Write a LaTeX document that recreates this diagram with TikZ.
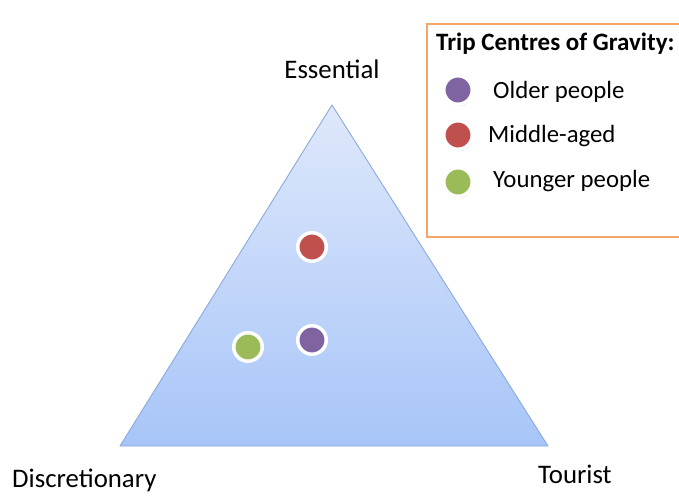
\documentclass[tikz,border=0pt]{standalone}
\usepackage{fontspec}
\setmainfont{Carlito}
\usepackage{xcolor}
\usetikzlibrary{shadows}

\definecolor{dotred}{HTML}{C0504D}
\definecolor{dotpurple}{HTML}{8064A2}
\definecolor{dotgreen}{HTML}{9BBB59}
\definecolor{boxorange}{HTML}{F2A66A}
\definecolor{edgeblue}{HTML}{8AAADB}
\definecolor{triatop}{HTML}{DFE8FB}
\definecolor{triabot}{HTML}{A7C5F8}

\begin{document}
\begin{tikzpicture}[x=1pt,y=-1pt,
  dot/.style={circle,fill=#1,draw=white,line width=3.5pt,minimum size=28.5pt,inner sep=0pt,
    drop shadow={shadow xshift=0.6pt,shadow yshift=-1.8pt,opacity=0.35,fill=black!60}},
  lbl/.style={font=\fontsize{26.8}{31}\selectfont,inner sep=0pt},
  key/.style={font=\fontsize{24.8}{29}\selectfont,inner sep=0pt,anchor=base west}]
\useasboundingbox (0,0) rectangle (679,495);

% triangle
\coordinate (apex) at (332,105);
\coordinate (bl) at (120,446);
\coordinate (br) at (548,446);
\shade[top color=triatop,bottom color=triabot] (apex) -- (bl) -- (br) -- cycle;
\draw[edgeblue,line width=0.9pt,line join=round] (apex) -- (bl) -- (br) -- cycle;

\node[lbl,anchor=base] (ess) at (332,78) {Essential};
\node[lbl,anchor=base west] (disc) at (12,487) {Discretionary};
\node[lbl,anchor=base west] (tour) at (538,483) {Tourist};

% centres of gravity
\node[dot=dotred] (mid) at (312,247) {};
\node[dot=dotpurple] (old) at (312,340) {};
\node[dot=dotgreen] (young) at (248,347) {};

% legend
\draw[boxorange,line width=2pt] (427,24) rectangle (700,237);
\node[inner sep=0pt,anchor=base west,font=\bfseries\fontsize{25}{30}\selectfont] (title) at (436,50) {Trip Centres of Gravity:};
\node[dot=dotpurple] (kold) at (458,90) {};
\node[dot=dotred] (kmid) at (458,135) {};
\node[dot=dotgreen] (kyoung) at (458,182) {};
\node[key] (told) at (493,98) {Older people};
\node[key] (tmid) at (488,142) {Middle-aged};
\node[key] (tyoung) at (493,187) {Younger people};

\end{tikzpicture}
\end{document}
